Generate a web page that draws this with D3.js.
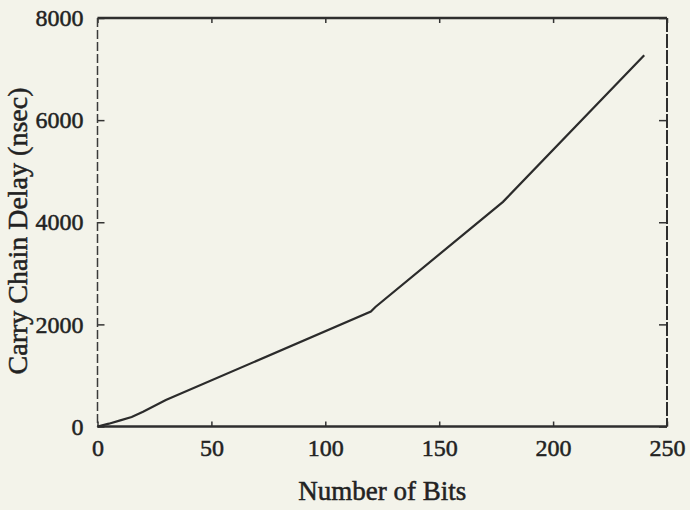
<!DOCTYPE html>
<meta charset="utf-8">
<script src="https://d3js.org/d3.v7.min.js"></script>
<style>
  body { margin: 0; background: #f3f3ea; }
  text { font-family: "Liberation Serif", "DejaVu Serif", serif; fill: #222; stroke: #222; stroke-width: 0.5px; }
</style>
<div id="my_dataviz"></div>
<script>
  // data
  var bits  = [0, 5, 10, 15, 20, 30, 120, 122, 178, 240];
  var delay = [0, 55, 120, 185, 290, 520, 2250, 2340, 4400, 7270];
  var xTicks = [0, 50, 100, 150, 200, 250];
  var yTicks = [0, 2000, 4000, 6000, 8000];

  var width = 690, height = 510;
  var margin = {top: 18, right: 23, bottom: 83.5, left: 97.5};
  var w = width - margin.left - margin.right,
      h = height - margin.top - margin.bottom;

  var svg = d3.select("#my_dataviz")
    .append("svg")
    .attr("width", width)
    .attr("height", height)
    .style("background", "#f3f3ea");

  var g = svg.append("g")
    .attr("transform", "translate(" + margin.left + "," + margin.top + ")");

  var x = d3.scaleLinear().domain([0, 250]).range([0, w]);
  var y = d3.scaleLinear().domain([0, 8000]).range([h, 0]);

  // inward ticks on all four sides
  function frameAxis(axis, transform) {
    var a = g.append("g").attr("transform", transform).call(axis);
    a.select(".domain").remove();
    a.selectAll("line").attr("stroke", "#333").attr("stroke-width", 1.5);
    return a;
  }

  var bottom = frameAxis(d3.axisBottom(x).tickValues(xTicks).tickFormat(d3.format("d"))
      .tickSizeInner(-5).tickSizeOuter(0).tickPadding(12),
    "translate(0," + h + ")");
  bottom.selectAll("text").style("font-size", "24px").attr("fill", "#222");

  var left = frameAxis(d3.axisLeft(y).tickValues(yTicks).tickFormat(d3.format("d"))
      .tickSizeInner(-7).tickSizeOuter(0).tickPadding(14),
    "translate(0,0)");
  left.selectAll("text").style("font-size", "24px").attr("fill", "#222");

  frameAxis(d3.axisTop(x).tickValues(xTicks).tickSizeInner(-5).tickSizeOuter(0).tickFormat(""), "translate(0,0)");
  frameAxis(d3.axisRight(y).tickValues(yTicks).tickSizeInner(-8).tickSizeOuter(0).tickFormat(""),
    "translate(" + w + ",0)");

  // frame lines
  g.append("line").attr("x1", 0).attr("x2", w).attr("y1", h).attr("y2", h)
    .attr("stroke", "#2e2e2e").attr("stroke-width", 2.5);
  g.append("line").attr("x1", 0).attr("x2", w).attr("y1", 0).attr("y2", 0)
    .attr("stroke", "#2e2e2e").attr("stroke-width", 2.5);
  g.append("line").attr("x1", 0).attr("x2", 0).attr("y1", 0).attr("y2", h)
    .attr("stroke", "#3a3a3a").attr("stroke-width", 1.5).attr("stroke-dasharray", "9,3");
  g.append("line").attr("x1", w).attr("x2", w).attr("y1", 0).attr("y2", h)
    .attr("stroke", "#2e2e2e").attr("stroke-width", 2).attr("stroke-dasharray", "14,2");

  // the curve
  var line = d3.line()
    .x(function (d, i) { return x(bits[i]); })
    .y(function (d, i) { return y(delay[i]); });

  g.append("path")
    .datum(bits)
    .attr("d", line)
    .attr("fill", "none")
    .attr("stroke", "#2b2b2b")
    .attr("stroke-width", 2.2);

  // axis titles
  svg.append("text")
    .attr("x", margin.left + w / 2)
    .attr("y", 500)
    .attr("text-anchor", "middle")
    .style("font-size", "27px")
    .text("Number of Bits");

  svg.append("text")
    .attr("transform", "translate(27," + 231 + ") rotate(-90)")
    .attr("text-anchor", "middle")
    .style("font-size", "28px")
    .text("Carry Chain Delay (nsec)");
</script>
